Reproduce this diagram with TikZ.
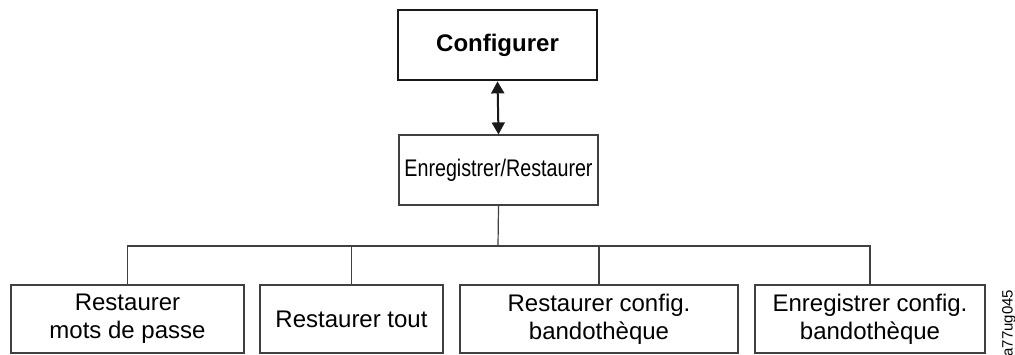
\documentclass[tikz,border=0pt]{standalone}
\usepackage{fontspec}
\setmainfont{Liberation Sans}
\newfontfamily\narrowfont{Liberation Sans}[FakeStretch=0.82]
\usetikzlibrary{arrows.meta}

\begin{document}
\begin{tikzpicture}[
    x=0.5pt, y=-0.5pt,
    box/.style={
        rectangle,
        draw=black!75,
        line width=0.6pt,
        minimum height=34pt,
        inner sep=0pt,
        align=center,
        font=\fontsize{12}{14}\selectfont
    },
    topbox/.style={
        box,
        draw=black!90,
        line width=1.4pt,
        minimum width=99.5pt,
        minimum height=35pt,
        font=\fontsize{12}{14}\selectfont\bfseries
    },
    link/.style={draw=black!75, line width=0.6pt},
    dblarrow/.style={
        draw=black!90,
        line width=1pt,
        {Triangle[width=6.5pt,length=6pt]}-{Triangle[width=6.5pt,length=6pt]}
    }
]
\useasboundingbox (0,0) rectangle (1015,354);

% Top
\node[topbox] (cfg) at (497.5, 45) {Configurer};
\node[box, minimum width=99.5pt, minimum height=35pt,
      font=\fontsize{12}{14}\selectfont\narrowfont] (save) at (498.5, 170) {Enregistrer/Restaurer};

\draw[dblarrow] (cfg.south) -- (save.north);

% Leaves
\node[box, minimum width=116.5pt] (pwd) at (127.5, 319) {Restaurer\\mots de passe};
\node[box, minimum width=91.5pt] (all) at (351.5, 319) {Restaurer tout};
\node[box, minimum width=139pt] (rcfg) at (599, 319) {Restaurer config.\\bandothèque};
\node[box, minimum width=115pt] (scfg) at (870, 319) {Enregistrer config.\\bandothèque};

% Tree lines
\coordinate (bus) at (498, 246);
\draw[link] (save.south) -- (bus);
\draw[link] (pwd.north) |- (scfg.north |- bus) -- (scfg.north);
\draw[link] (all.north) -- (all.north |- bus);
\draw[link] (rcfg.north) -- (rcfg.north |- bus);

% Figure id
\node[font=\fontsize{7.5}{8}\selectfont, rotate=90, anchor=west, inner sep=0pt] (figid) at (1009, 357) {a77ug045};

\end{tikzpicture}
\end{document}
